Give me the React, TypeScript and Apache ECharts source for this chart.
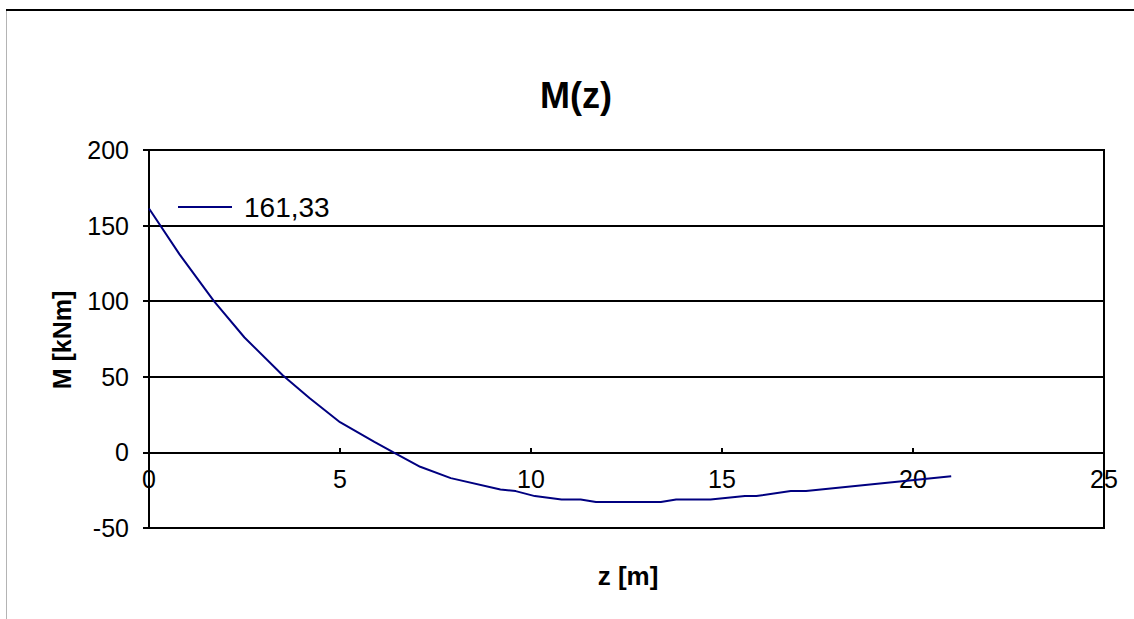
import React, { useEffect, useRef } from "react";
import * as echarts from "echarts";

// Bending moment along the beam
const zValues = [0, 0.8, 1.7, 2.5, 3.5, 4.2, 5.0, 5.9, 6.4, 7.1, 7.9, 9.2, 9.6, 10.1, 10.8, 11.3, 11.7, 13.4, 13.8, 14.7, 15.6, 15.9, 16.8, 17.2, 21.0];
const mValues = [161.33, 131, 100, 76, 51, 36, 20, 7, 0, -9.5, -17, -24.5, -25.6, -28.9, -31.1, -31.1, -32.8, -32.8, -31.1, -31.1, -28.9, -28.9, -25.6, -25.6, -15.7];
const seriesName = "161,33";
const chartTitle = "M(z)";
const xAxisName = "z [m]";
const yAxisName = "M [kNm]";

const FONT = 'Arial, "Liberation Sans", sans-serif';

export default function App() {
  const ref = useRef<HTMLDivElement>(null);

  useEffect(() => {
    if (!ref.current) return;
    const chart = echarts.init(ref.current, null, { renderer: "svg" });
    const data = zValues.map((z, i) => [z, mValues[i]]);
    chart.setOption({
      animation: false,
      backgroundColor: "#ffffff",
      grid: {
        left: 149,
        top: 150,
        right: 30,
        bottom: 91,
        show: true,
        borderColor: "#000000",
        borderWidth: 2,
        backgroundColor: "transparent",
      },
      legend: {
        left: 178,
        top: 193,
        padding: 0,
        itemWidth: 54,
        itemHeight: 2,
        icon: "rect",
        data: [{ name: seriesName, icon: "rect" }],
        textStyle: { fontFamily: FONT, fontSize: 28, color: "#000000", padding: [0, 0, 0, 7] },
      },
      xAxis: {
        type: "value",
        min: 0,
        max: 25,
        interval: 5,
        // the axis runs along M = 0, i.e. 75 px above the bottom edge of the plot
        offset: -75,
        axisLine: { onZero: false, lineStyle: { color: "#000000", width: 2 } },
        axisTick: { inside: true, length: 5, lineStyle: { color: "#000000", width: 2 } },
        axisLabel: { fontFamily: FONT, fontSize: 25, color: "#000000", margin: 13 },
        splitLine: { show: false },
      },
      yAxis: {
        type: "value",
        min: -50,
        max: 200,
        interval: 50,
        axisLine: { show: true, lineStyle: { color: "#000000", width: 2 } },
        axisTick: { show: true, inside: false, length: 6, lineStyle: { color: "#000000", width: 2 } },
        axisLabel: { fontFamily: FONT, fontSize: 25, color: "#000000", margin: 20 },
        splitLine: { show: true, lineStyle: { color: "#000000", width: 2 } },
      },
      series: [
        {
          name: seriesName,
          type: "line",
          data,
          showSymbol: false,
          symbol: "none",
          lineStyle: { color: "#000080", width: 2 },
          itemStyle: { color: "#000080" },
        },
      ],
      graphic: [
        {
          type: "line",
          shape: { x1: 6, y1: 10, x2: 1134, y2: 10 },
          style: { stroke: "#000000", lineWidth: 2 },
        },
        {
          type: "line",
          shape: { x1: 6.5, y1: 11, x2: 6.5, y2: 619 },
          style: { stroke: "#b4b4b4", lineWidth: 1 },
        },
        {
          type: "text",
          x: 576,
          y: 95,
          style: {
            text: chartTitle,
            font: `bold 36px ${FONT}`,
            fill: "#000000",
            textAlign: "center",
            textVerticalAlign: "middle",
          },
        },
        {
          type: "text",
          x: 628,
          y: 576,
          style: {
            text: xAxisName,
            font: `bold 26px ${FONT}`,
            fill: "#000000",
            textAlign: "center",
            textVerticalAlign: "middle",
          },
        },
        {
          type: "text",
          x: 62,
          y: 340,
          rotation: Math.PI / 2,
          style: {
            text: yAxisName,
            font: `bold 25px ${FONT}`,
            fill: "#000000",
            textAlign: "center",
            textVerticalAlign: "middle",
          },
        },
      ],
    });
    return () => chart.dispose();
  }, []);

  return (
    <div
      ref={ref}
      style={{ position: "fixed", left: 0, top: 0, width: 1134, height: 619, background: "#ffffff" }}
    />
  );
}
